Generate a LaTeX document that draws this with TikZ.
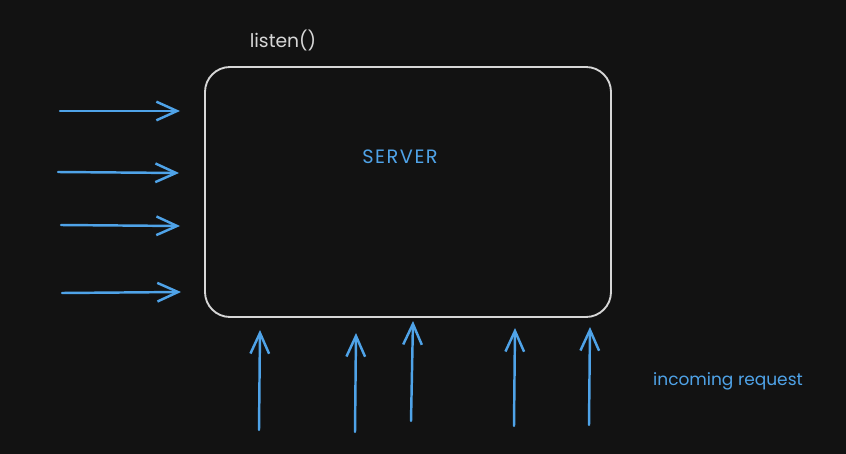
\documentclass[tikz,border=0pt]{standalone}
\usepackage{fontspec}
\setmainfont{Poppins}
\newfontfamily\wideface[LetterSpace=8]{Poppins}
\usetikzlibrary{arrows.meta,positioning,backgrounds}
\definecolor{bgdark}{HTML}{121212}
\definecolor{reqblue}{HTML}{4FA3E8}
\definecolor{boxgray}{HTML}{D6D6D6}
\tikzset{>={Straight Barb[length=0.62cm,width=0.56cm]},
  req/.style={->,draw=reqblue,line width=2.1pt,line cap=round},
  server/.style={draw=boxgray,line width=1.6pt,rounded corners=0.75cm},
  lbl/.style={font=\fontsize{14.5}{17}\selectfont,inner sep=0pt},
}
\newcommand{\reqin}[3]{%
    \coordinate (#1s) at #2;
    \coordinate (#1e) at #3;
    \draw[req] (#1s) -- (#1e);
}
\begin{document}
\begin{tikzpicture}[x=0.03cm,y=-0.03cm]
    \fill[bgdark] (0,0) rectangle (846,454);
    \useasboundingbox (0,0) rectangle (846,454);

    \draw[server] (205,67) rectangle (611,317);
    \node[lbl,text=reqblue,font=\wideface\fontsize{16.5}{19}\selectfont] (srv) at (400,157) {SERVER};
    \node[lbl,text=boxgray,font=\fontsize{16}{19}\selectfont] (lst) at (283,40) {listen()};
    \node[lbl,text=reqblue] (inc) at (728,381) {incoming request};

    % left side
    \reqin{l1}{(60,111)}{(180,111)}
    \reqin{l2}{(58,172)}{(179,173)}
    \reqin{l3}{(61,225)}{(180,226)}
    \reqin{l4}{(62,293)}{(181,292)}
    % bottom
    \reqin{b1}{(259,430)}{(260,330)}
    \reqin{b2}{(355,432)}{(356,333)}
    \reqin{b3}{(411,421)}{(413,321)}
    \reqin{b4}{(514,426)}{(515,328)}
    \reqin{b5}{(589,425)}{(590,327)}
\end{tikzpicture}
\end{document}
